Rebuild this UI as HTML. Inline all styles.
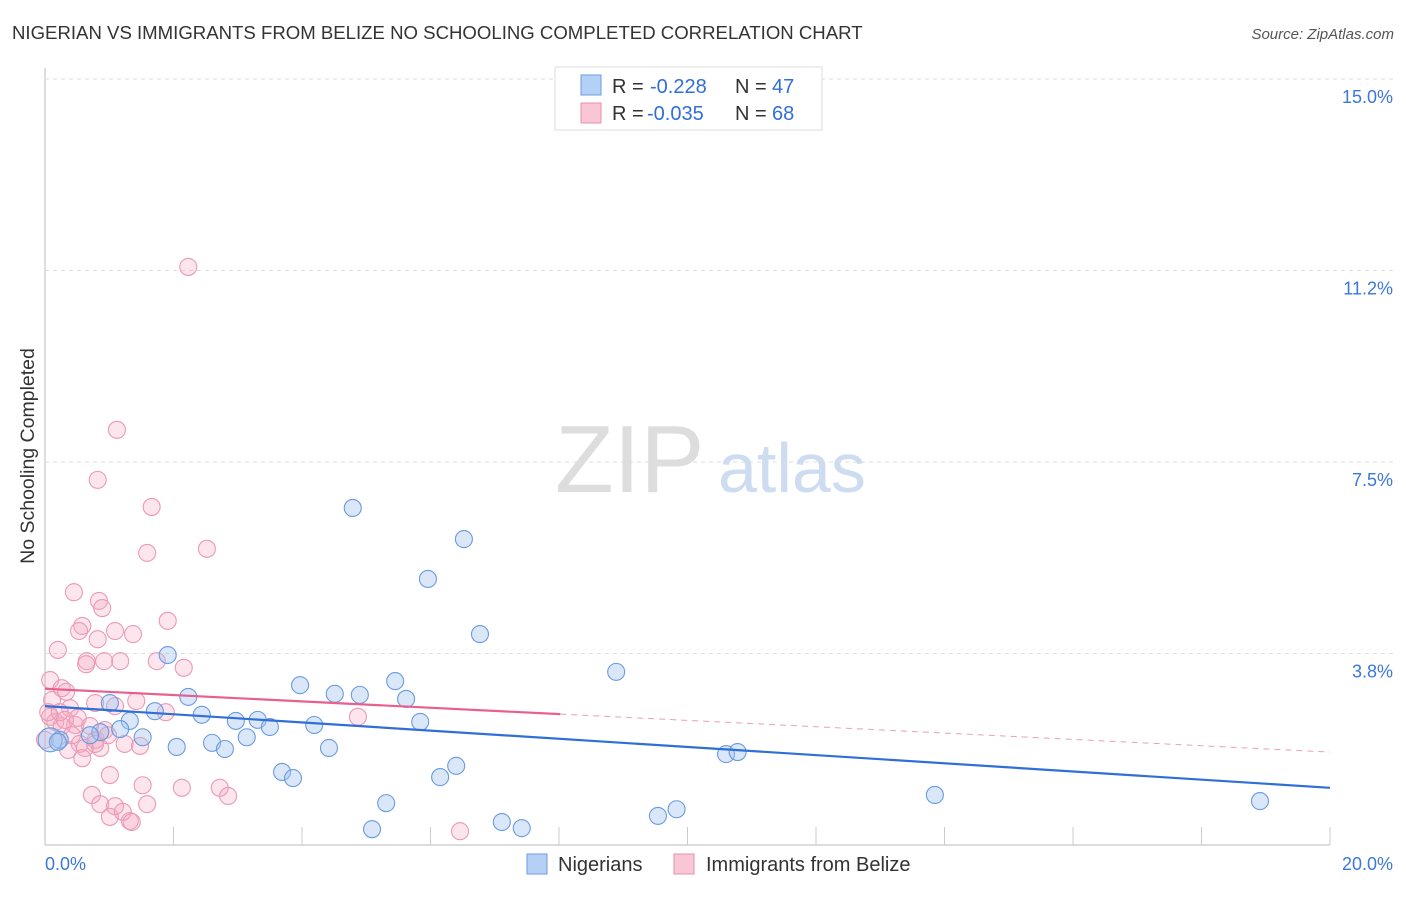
<!DOCTYPE html>
<html><head><meta charset="utf-8"><style>
body{margin:0;background:#fff;font-family:"Liberation Sans",sans-serif;}
svg text{font-family:"Liberation Sans",sans-serif;}
</style></head><body>
<svg id="chart" width="1406" height="892">
<text x="12" y="39" font-size="18.6" fill="#333">NIGERIAN VS IMMIGRANTS FROM BELIZE NO SCHOOLING COMPLETED CORRELATION CHART</text>
<text x="1394" y="39" font-size="15" fill="#555" text-anchor="end" font-style="italic">Source: ZipAtlas.com</text>
<text transform="translate(34,456) rotate(-90)" font-size="19.5" fill="#333" text-anchor="middle">No Schooling Completed</text>
<g id="grid"></g>
<text x="555" y="492" font-size="96" fill="#ddd" font-family="Liberation Serif">ZIP</text>
<text x="718" y="492" font-size="70" fill="#cddcf0">atlas</text>
<g id="marks"></g>
<g>
<rect x="555" y="67" width="267" height="63" fill="#fff" stroke="#ddd"/>
<rect x="581" y="75" width="20" height="20" fill="#b5d0f5" stroke="#6a9be0"/>
<text x="612" y="93" font-size="20" fill="#333">R = </text><text x="650" y="93" font-size="20" fill="#2f6fd6">-0.228</text>
<text x="735" y="93" font-size="20" fill="#333">N = </text><text x="772" y="93" font-size="20" fill="#2f6fd6">47</text>
<rect x="581" y="103" width="20" height="20" fill="#f9c6d6" stroke="#e890ab"/>
<text x="612" y="120" font-size="20" fill="#333">R = </text><text x="647" y="120" font-size="20" fill="#2f6fd6">-0.035</text>
<text x="735" y="120" font-size="20" fill="#333">N = </text><text x="772" y="120" font-size="20" fill="#2f6fd6">68</text>
</g>
<g>
<rect x="527" y="854" width="20" height="20" fill="#b5d0f5" stroke="#6a9be0"/>
<text x="558" y="871" font-size="20" fill="#333">Nigerians</text>
<rect x="674" y="854" width="20" height="20" fill="#f9c6d6" stroke="#e890ab"/>
<text x="706" y="871" font-size="20" fill="#333">Immigrants from Belize</text>
</g>
</svg>
<script>
const yTicks=[3.75,7.5,11.25,15];
const yTickLabels=["3.8%","7.5%","11.2%","15.0%"];
const xTickLabels=["0.0%","20.0%"];
const blueX=[4.79,6.52,5.96,6.77,8.89,1.91,2.23,3.97,4.51,4.90,5.45,5.62,1.71,2.44,2.97,3.31,3.50,4.19,5.84,1.01,1.32,1.52,1.17,0.86,0.70,0.23,0.08,2.05,2.60,2.80,3.14,4.42,3.69,3.86,6.15,6.40,5.31,5.09,7.11,7.42,9.54,9.83,10.60,10.78,13.85,18.91,0.20];
const blueY=[6.60,5.99,5.21,4.13,3.39,3.72,2.90,3.13,2.96,2.94,3.21,2.86,2.62,2.55,2.43,2.45,2.31,2.35,2.41,2.78,2.43,2.11,2.27,2.21,2.15,2.06,2.06,1.92,2.00,1.88,2.11,1.90,1.43,1.31,1.33,1.55,0.82,0.31,0.45,0.33,0.57,0.70,1.78,1.82,0.98,0.86,2.02];
const pinkX=[2.23,1.12,0.82,1.66,1.59,2.52,0.45,0.84,0.89,1.91,0.58,0.53,0.82,1.09,1.37,0.20,0.65,0.64,0.92,1.17,1.74,2.16,0.08,0.26,0.33,0.11,0.39,0.78,1.09,1.42,1.88,4.87,0.08,0.16,0.26,0.47,0.70,0.93,0.54,0.62,0.36,0.58,0.79,1.24,1.48,1.01,0.73,1.52,2.13,2.72,2.85,0.86,1.09,1.59,1.01,1.32,1.21,1.35,6.46,0.05,0.00,0.42,0.23,0.86,0.51,0.31,0.78,0.98];
const pinkY=[11.32,8.13,7.15,6.62,5.72,5.80,4.95,4.78,4.64,4.39,4.29,4.19,4.03,4.19,4.13,3.82,3.60,3.54,3.60,3.60,3.60,3.47,3.23,3.07,3.00,2.84,2.68,2.78,2.72,2.82,2.60,2.51,2.51,2.41,2.33,2.35,2.33,2.25,1.98,1.90,1.86,1.70,2.06,1.98,1.94,1.37,0.98,1.17,1.12,1.12,0.96,0.80,0.76,0.80,0.55,0.47,0.65,0.45,0.27,2.60,2.06,2.15,2.60,1.90,2.49,2.45,1.98,2.15];
const blueTrend=[2.72,1.12];
const pinkTrend=[3.06,1.82];
const pinkSolidEnd=8.02;
const X0=45,X1=1330,Y0=845,Y1=79;
const sx=v=>X0+(v/20)*(X1-X0);
const sy=v=>Y0-(v/15)*(Y0-Y1);
const NS="http://www.w3.org/2000/svg";
const grid=document.getElementById('grid'),marks=document.getElementById('marks');
function mk(tag,attrs,parent){const e=document.createElementNS(NS,tag);for(const k in attrs)e.setAttribute(k,attrs[k]);parent.appendChild(e);return e;}
let ax=mk('line',{x1:X0,y1:68,x2:X0,y2:Y0,stroke:'#bbb'},grid);


let bx=mk('line',{x1:X0,y1:Y0,x2:X1,y2:Y0,stroke:'#bbb'},grid);


for(let i=1;i<=10;i++){const t=mk('line',{x1:X0+i*128.5,y1:Y0-18,x2:X0+i*128.5,y2:Y0,stroke:'#ccc'},grid);

}
yTicks.forEach((v,i)=>{const g=mk('line',{x1:X0,y1:sy(v),x2:1395,y2:sy(v),stroke:'#ddd','stroke-dasharray':'4,4'},grid);


const t=mk('text',{x:1393,y:sy(v)+24,'font-size':18,fill:'#3b78d8','text-anchor':'end'},grid);t.textContent=yTickLabels[i];

});
xTickLabels.forEach((l,i)=>{const t=mk('text',{x:i?1393:45,y:870,'font-size':18,fill:'#3b78d8','text-anchor':i?'end':'start'},grid);t.textContent=l;

});
pinkX.forEach((v,i)=>{const c=mk('circle',{cx:sx(v),cy:sy(pinkY[i]),r:8.5,fill:'rgba(245,170,195,0.3)',stroke:'#eb9ab3','stroke-width':1.1},marks);

});
blueX.forEach((v,i)=>{const c=mk('circle',{cx:sx(v),cy:sy(blueY[i]),r:(i==26?12:8.5),fill:'rgba(160,195,240,0.4)',stroke:'#6a9be0','stroke-width':1.1},marks);

});
const pAt=x=>pinkTrend[0]+(pinkTrend[1]-pinkTrend[0])*x/20;
let l1=mk('line',{x1:sx(0),y1:sy(blueTrend[0]),x2:sx(20),y2:sy(blueTrend[1]),stroke:'#2f6fd6','stroke-width':2.2},marks);


let l2=mk('line',{x1:sx(0),y1:sy(pAt(0)),x2:sx(pinkSolidEnd),y2:sy(pAt(pinkSolidEnd)),stroke:'#e8608e','stroke-width':2.2},marks);


let l3=mk('line',{x1:sx(pinkSolidEnd),y1:sy(pAt(pinkSolidEnd)),x2:sx(20),y2:sy(pAt(20)),stroke:'#e8a0b8','stroke-width':1,'stroke-dasharray':'6,5'},marks);


</script>
</body></html>
